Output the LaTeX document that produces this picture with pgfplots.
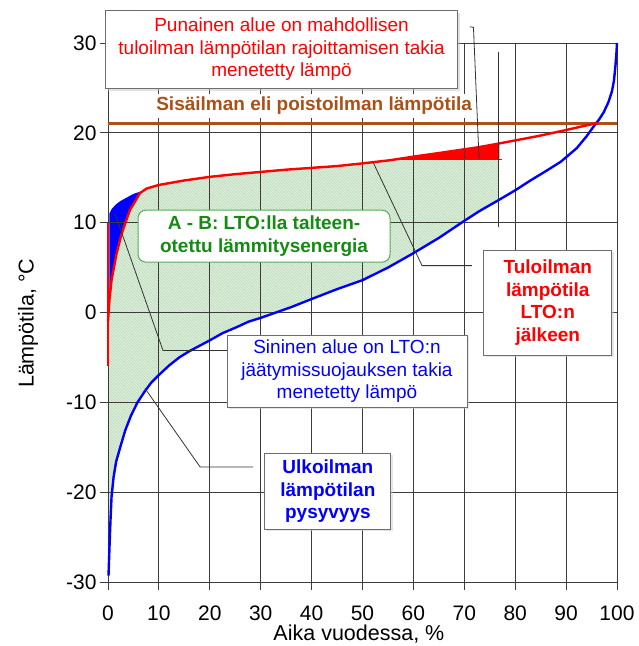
\documentclass[border=0pt]{standalone}
\usepackage{pgfplots}
\pgfplotsset{compat=1.18}
\usepackage{fontspec}
\setmainfont{Liberation Sans}
\usetikzlibrary{patterns,shadows}
\definecolor{myred}{RGB}{255,0,0}
\definecolor{myblue}{RGB}{0,0,255}
\definecolor{brownline}{RGB}{170,80,25}
\definecolor{greentext}{RGB}{20,140,20}
\definecolor{greenborder}{RGB}{90,170,90}
\definecolor{greenfill}{RGB}{220,238,218}
\definecolor{hatch}{RGB}{185,218,185}
\definecolor{gridc}{RGB}{60,60,60}
\definecolor{boxborder}{RGB}{110,110,110}
\newcommand{\boxfont}{\fontsize{19}{22.5}\selectfont}
\begin{document}
\begin{tikzpicture}
\begin{axis}[
  set layers,
  scale only axis, width=509pt, height=539pt,
  xmin=0, xmax=100, ymin=-30, ymax=30,
  xtick={0,10,...,100}, ytick={-30,-20,...,30},
  grid=major, major grid style={gridc, line width=0.9pt},
  axis line style={gridc, line width=0.9pt},
  tick style={gridc, line width=0.9pt},
  tick pos=left, tick align=outside, major tick length=8pt,
  ticklabel style={font=\fontsize{21}{25}\selectfont},
  /pgf/number format/assume math mode=true,
  xticklabel style={yshift=-12pt},
  clip=false,
]
% green hatched area (A - B)
\addplot[draw=none, fill=greenfill, postaction={pattern=north west lines, pattern color=hatch}, on layer=axis background] coordinates {
(0,-1) (0.3,1.5) (0.7,3.6) (1.7,6.6) (2.7,8.8) (4.3,11.4) (6.3,13.3) (7.6,13.8) (10,14.2) (15,14.7) (20,15.1) (25,15.4) (30,15.65) (35,15.9) (40,16.1) (45,16.3) (50,16.6) (55.4,17) (76.8,17) (76.8,12.5)
(73,11.3) (70,10.2) (65,8.3) (60,6.6) (55,5.0) (50,3.6) (45,2.6) (40,1.5) (36,0.6) (33,0) (30,-0.6) (27.7,-1.0) (25,-1.7) (22.5,-2.3) (20,-3.1) (18,-3.7) (16,-4.3) (14,-5.0) (12,-5.9) (10.1,-6.9) (8.5,-7.8) (7.2,-8.8) (5.8,-10.0) (4.5,-11.5) (3.4,-13.1) (2.4,-15.0) (1.6,-16.6) (1.1,-18.3) (0.7,-20.5) (0.5,-23) (0.3,-26) (0.1,-29.3) (0,-29.3)
} -- cycle;
% blue area (frost protection loss)
\addplot[draw=none, fill=myblue, on layer=axis background] coordinates {
(0.26,1.3) (0.26,11.0) (0.7,11.5) (1.5,12.0) (2.4,12.4) (3.7,12.8) (5,13.2) (6.6,13.5) (7.6,13.8) (6.3,13.3) (4.3,11.4) (2.7,8.8) (1.7,6.6) (0.7,3.6)
} -- cycle;
% red area (supply temperature limit loss)
\addplot[draw=none, fill=myred, on layer=axis background] coordinates {
(55.4,17) (60,17.4) (65,17.8) (69.8,18.2) (72.8,18.45) (76.9,18.85) (76.9,17)
} -- cycle;
\addplot[myred, line width=1.3pt] coordinates {(55.4,17) (77.4,17)};
% indoor / exhaust air temperature
\addplot[brownline, line width=2.4pt] coordinates {(0,21.05) (100,21.05)};
% outdoor temperature duration curve
\addplot[myblue, line width=2.4pt] coordinates {
(0.1,-29.3) (0.3,-26) (0.5,-23) (0.7,-20.5) (1.1,-18.3) (1.6,-16.6) (2.4,-15.0) (3.4,-13.1) (4.5,-11.5) (5.8,-10.0) (7.2,-8.8) (8.5,-7.8) (10.1,-6.9) (12,-5.9) (14,-5.0) (16,-4.3) (18,-3.7) (20,-3.1) (22.5,-2.3) (25,-1.7) (27.7,-1.0) (30,-0.6) (33,0) (36,0.6) (40,1.5) (45,2.6) (50,3.6) (55,5.0) (60,6.6) (65,8.3) (70,10.2) (73,11.3) (76.7,12.5) (80,13.6) (83,14.7) (86.2,15.8) (89,16.8) (92.1,18.3) (94,19.6) (95.4,20.7) (96.5,21.5) (97.4,22.3) (98.3,23.4) (99,24.6) (99.4,25.8) (99.7,27.5) (99.9,29) (100,30)
};
% supply air temperature after heat recovery
\addplot[myred, line width=2.4pt] coordinates {(0,-6) (0,10)};
\addplot[myred, line width=2.4pt] coordinates {
(0,-1) (0.3,1.5) (0.7,3.6) (1.7,6.6) (2.7,8.8) (4.3,11.4) (6.3,13.3) (7.6,13.8) (10,14.2) (15,14.7) (20,15.1) (25,15.4) (30,15.65) (35,15.9) (40,16.1) (45,16.3) (50,16.6) (55.4,16.95) (60,17.35) (65,17.75) (69.8,18.15) (72.8,18.4) (76.7,18.8) (79,19.05) (82.3,19.4) (85,19.7) (89.5,20.25) (93,20.7) (95.4,21.0) (96.3,21.1)
};
% annotation boxes
\node[draw=boxborder, line width=0.8pt, fill=white, drop shadow={shadow xshift=2.5pt, shadow yshift=-2.5pt, fill=gray!45}, minimum width=352pt, minimum height=78pt, align=center, text=myred, font=\boxfont] at (axis cs:34.1,29.3) {Punainen alue on mahdollisen\\tuloilman lämpötilan rajoittamisen takia\\menetetty lämpö};
\node[fill=white, inner xsep=2pt, inner ysep=3pt, text=brownline, font=\boxfont\bfseries] at (axis cs:40.5,23.0) {Sisäilman eli poistoilman lämpötila};
\node[draw=greenborder, line width=1pt, fill=white, rounded corners=8pt, minimum width=252pt, minimum height=52pt, align=center, text=greentext, font=\boxfont\bfseries] at (axis cs:30.65,8.5) {A - B: LTO:lla talteen-\\otettu lämmitysenergia};
\node[draw=boxborder, line width=0.8pt, fill=white, drop shadow={shadow xshift=2pt, shadow yshift=-2pt, fill=gray!40}, minimum width=128pt, minimum height=105pt, align=center, text=myred, font=\boxfont\bfseries] at (axis cs:86.4,1.1) {Tuloilman\\lämpötila\\LTO:n\\jälkeen};
\node[draw=boxborder, line width=0.8pt, fill=white, drop shadow={shadow xshift=2pt, shadow yshift=-2pt, fill=gray!40}, minimum width=240pt, minimum height=72pt, align=center, text=myblue, font=\boxfont] at (axis cs:46.95,-6.55) {Sininen alue on LTO:n\\jäätymissuojauksen takia\\menetetty lämpö};
\node[draw=boxborder, line width=0.8pt, fill=white, drop shadow={shadow xshift=2pt, shadow yshift=-2pt, fill=gray!40}, minimum width=126pt, minimum height=76pt, align=center, text=myblue, font=\boxfont\bfseries] at (axis cs:43.2,-19.9) {Ulkoilman\\lämpötilan\\pysyvyys};
% leader lines
\draw[black!80, line width=0.8pt] (axis cs:71.1,31.8) -- (axis cs:71.8,31.75) -- (axis cs:72.9,17.05);
\draw[black!80, line width=0.8pt] (axis cs:76.7,29.0) -- (axis cs:76.7,9.5);
\draw[black!80, line width=0.8pt] (axis cs:71.5,5.22) -- (axis cs:61.7,5.22) -- (axis cs:52.1,16.7);
\draw[black!80, line width=0.8pt] (axis cs:23.4,-4.22) -- (axis cs:10.8,-4.22) -- (axis cs:1.38,11.0);
\draw[black!80, line width=0.8pt] (axis cs:28.5,-17.2) -- (axis cs:18.1,-17.2) -- (axis cs:7.27,-8.45);
% axis labels
\node[font=\fontsize{21.5}{25}\selectfont] at (axis cs:49.3,-35.75) {Aika vuodessa, \%};
\node[rotate=90, font=\fontsize{21.5}{25}\selectfont] at (axis cs:-15.7,-1.2) {Lämpötila, °C};
\end{axis}
\pgfresetboundingbox
\path (-108pt,-64pt) rectangle (530pt,582pt);
\end{tikzpicture}
\end{document}
